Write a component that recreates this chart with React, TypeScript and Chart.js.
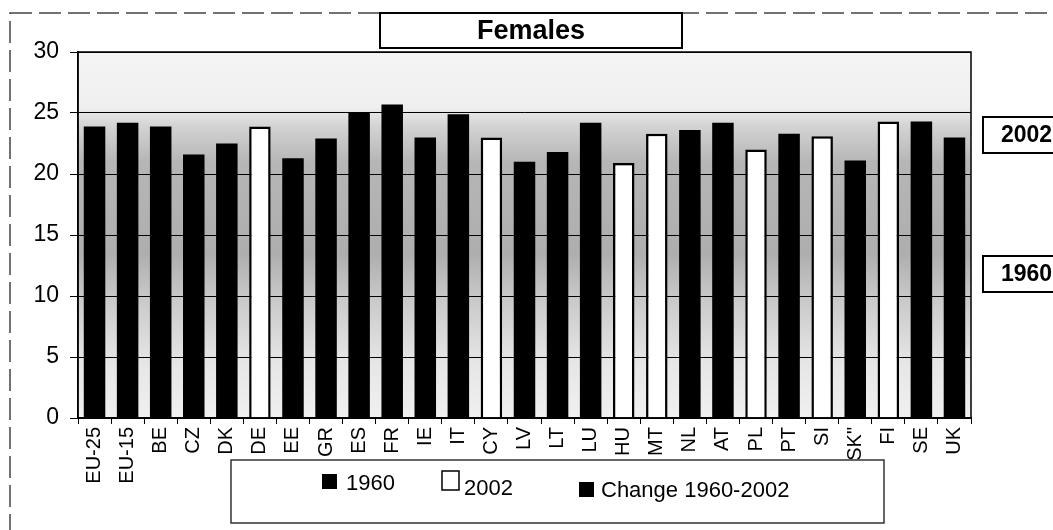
import React, { useEffect, useRef } from "react";
import { Chart, registerables } from "chart.js";

Chart.register(...registerables);

const categories = ["EU-25", "EU-15", "BE", "CZ", "DK", "DE", "EE", "GR", "ES", "FR", "IE", "IT", "CY", "LV", "LT", "LU", "HU", "MT", "NL", "AT", "PL", "PT", "SI", 'SK"', "FI", "SE", "UK"];

const values1960: (number | null)[] = [23.9, 24.2, 23.9, 21.6, 22.5, null, 21.3, 22.9, 25.0, 25.7, 23.0, 24.9, null, 21.0, 21.8, 24.2, null, null, 23.6, 24.2, null, 23.3, null, 21.1, null, 24.3, 23.0];
const values2002: (number | null)[] = [null, null, null, null, null, 23.9, null, null, null, null, null, null, 23.0, null, null, null, 20.9, 23.3, null, null, 22.0, null, 23.1, null, 24.3, null, null];
const valuesChange: (number | null)[] = [];

const yTicks = [0, 5, 10, 15, 20, 25, 30];
const titleText = "Females";
const sideLabels = ["2002", "1960"];

const FONT = "'Liberation Sans', Arial, sans-serif";

const decorPlugin = {
  id: "decor",
  beforeDraw(chart: any) {
    const { ctx, chartArea } = chart;
    ctx.save();
    ctx.fillStyle = "#fff";
    ctx.fillRect(0, 0, chart.width, chart.height);
    ctx.strokeStyle = "#444";
    ctx.lineWidth = 1.5;
    ctx.setLineDash([22, 7]);
    ctx.strokeRect(10, 13, 1200, 700);
    ctx.setLineDash([]);
    const { left, top, right, bottom } = chartArea;
    const g = ctx.createLinearGradient(0, top, 0, bottom);
    g.addColorStop(0, "#f5f5f5");
    g.addColorStop(0.15, "#efefef");
    g.addColorStop(0.2, "#d4d4d4");
    g.addColorStop(0.3, "#b6b6b6");
    g.addColorStop(0.55, "#aeaeae");
    g.addColorStop(0.68, "#cacaca");
    g.addColorStop(0.85, "#e6e6e6");
    g.addColorStop(1, "#f0f0f0");
    ctx.fillStyle = g;
    ctx.fillRect(left, top, right - left, bottom - top);
    ctx.restore();
  },
  afterDatasetsDraw(chart: any) {
    const { ctx, chartArea } = chart;
    ctx.save();
    ctx.strokeStyle = "#000";
    ctx.lineWidth = 1.5;
    ctx.strokeRect(chartArea.left, chartArea.top, chartArea.right - chartArea.left, chartArea.bottom - chartArea.top);
    ctx.restore();
  },
  afterDraw(chart: any) {
    const { ctx } = chart;
    ctx.save();
    ctx.fillStyle = "#fff";
    ctx.fillRect(380, 13, 302, 35);
    ctx.strokeStyle = "#000";
    ctx.lineWidth = 2;
    ctx.strokeRect(380, 13, 302, 35);
    ctx.fillStyle = "#000";
    ctx.font = `bold 27px ${FONT}`;
    ctx.textAlign = "center";
    ctx.textBaseline = "middle";
    ctx.fillText(titleText, 531, 32);

    const boxes = [117, 256];
    ctx.font = `bold 23px ${FONT}`;
    ctx.textAlign = "left";
    sideLabels.forEach((t, i) => {
      const y = boxes[i];
      ctx.fillStyle = "#fff";
      ctx.fillRect(983, y, 90, 36);
      ctx.strokeStyle = "#000";
      ctx.lineWidth = 2;
      ctx.strokeRect(983, y, 90, 36);
      ctx.fillStyle = "#000";
      ctx.fillText(t, 1001, y + 19);
    });

    ctx.fillStyle = "#fff";
    ctx.fillRect(231, 460, 653, 63);
    ctx.strokeStyle = "#333";
    ctx.lineWidth = 1.5;
    ctx.strokeRect(231, 460, 653, 63);

    const ds = chart.data.datasets;
    const items = [
      { sx: 322, sy: 474, sw: 15, sh: 15, tx: 346, ty: 490 },
      { sx: 442, sy: 471, sw: 17, sh: 19, tx: 464, ty: 495 },
      { sx: 579, sy: 482, sw: 15, sh: 15, tx: 601, ty: 497 },
    ];
    ctx.font = `22px ${FONT}`;
    ctx.textBaseline = "alphabetic";
    items.forEach((it, i) => {
      const d = ds[i];
      ctx.fillStyle = d.backgroundColor;
      ctx.fillRect(it.sx, it.sy, it.sw, it.sh);
      if (d.borderWidth) {
        ctx.strokeStyle = "#000";
        ctx.lineWidth = 1.5;
        ctx.strokeRect(it.sx, it.sy, it.sw, it.sh);
      }
      ctx.fillStyle = "#000";
      ctx.fillText(d.label, it.tx, it.ty);
    });
    ctx.restore();
  },
};

export default function App() {
  const ref = useRef<HTMLCanvasElement | null>(null);
  useEffect(() => {
    if (!ref.current) return;
    const chart = new Chart(ref.current, {
      type: "bar",
      data: {
        labels: categories,
        datasets: [
          { label: "1960", data: values1960, backgroundColor: "#000", borderWidth: 0, barPercentage: 0.65, categoryPercentage: 1 },
          { label: "2002", data: values2002, backgroundColor: "#fff", borderColor: "#000", borderWidth: 2.5, barPercentage: 0.65, categoryPercentage: 1 },
          { label: "Change 1960-2002", data: valuesChange, backgroundColor: "#000", borderWidth: 0, barPercentage: 0.65, categoryPercentage: 1 },
        ],
      },
      options: {
        animation: false,
        responsive: false,
        maintainAspectRatio: false,
        layout: { padding: { left: 0, top: 52, right: 82, bottom: 0 } },
        plugins: { legend: { display: false }, title: { display: false }, tooltip: { enabled: false } },
        scales: {
          x: {
            stacked: true,
            afterFit: (s: any) => { s.height = 112; },
            grid: { drawOnChartArea: false, drawTicks: true, tickLength: 6, color: "#000", offset: true },
            border: { display: true, color: "#000", width: 1.5 },
            ticks: { color: "#000", font: { family: FONT, size: 20 }, minRotation: 90, maxRotation: 90, autoSkip: false, padding: 3 },
          },
          y: {
            stacked: true,
            min: 0,
            max: 30,
            afterFit: (s: any) => { s.width = 78; },
            afterBuildTicks: (s: any) => { s.ticks = yTicks.map((v) => ({ value: v })); },
            grid: { color: "#000", lineWidth: 1, tickLength: 8, drawTicks: true },
            border: { display: true, color: "#000", width: 1.5 },
            ticks: { color: "#000", font: { family: FONT, size: 23 }, padding: 11 },
          },
        },
      },
      plugins: [decorPlugin],
    });
    return () => chart.destroy();
  }, []);
  return (
    <div style={{ position: "absolute", left: 0, top: 0, width: 1053, height: 530 }}>
      <canvas ref={ref} width={1053} height={530} style={{ display: "block" }} />
    </div>
  );
}
